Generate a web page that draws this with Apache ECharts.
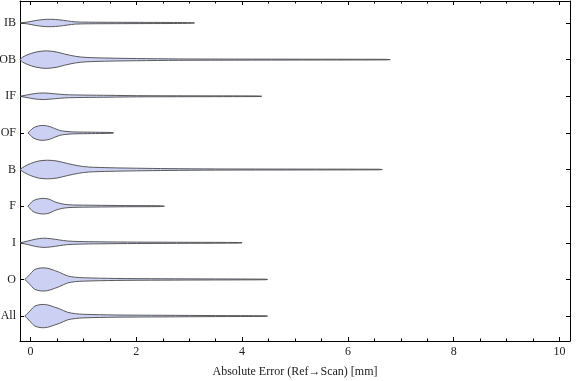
<!DOCTYPE html>
<html>
<head>
<meta charset="utf-8">
<script src="https://cdn.jsdelivr.net/npm/echarts@6/dist/echarts.min.js"></script>
<style>html,body{margin:0;padding:0;background:#fff;}#c{width:576px;height:381px;}</style>
</head>
<body>
<div id="c"></div>
<script>
// Categories, top to bottom
const categories = ['IB', 'OB', 'IF', 'OF', 'B', 'F', 'I', 'O', 'All'];

// Violin profiles: x = absolute error [mm], hw = half-width of density (in row units)
const IB_x  = [-0.2, -0.05, 0.1, 0.25, 0.4, 0.55, 0.7, 0.85, 1.1, 1.6, 2.2, 2.7, 3.05, 3.1];
const IB_hw = [0, 0.027, 0.068, 0.095, 0.101, 0.085, 0.055, 0.03, 0.022, 0.019, 0.016, 0.014, 0.008, 0];

const OB_x  = [-0.2, -0.15, -0.05, 0.1, 0.3, 0.5, 0.65, 0.85, 1.05, 1.5, 2.0, 2.8, 4.0, 5.5, 6.7, 6.8];
const OB_hw = [0, 0.068, 0.137, 0.205, 0.240, 0.205, 0.150, 0.090, 0.060, 0.041, 0.030, 0.019, 0.014, 0.011, 0.008, 0];

const IF_x  = [-0.2, -0.05, 0.1, 0.25, 0.45, 0.65, 1.0, 1.5, 2.0, 3.0, 4.3, 4.37];
const IF_hw = [0, 0.041, 0.077, 0.090, 0.068, 0.044, 0.033, 0.025, 0.016, 0.012, 0.008, 0];

const OF_x  = [-0.05, 0.0, 0.05, 0.15, 0.25, 0.35, 0.45, 0.55, 0.65, 0.8, 1.0, 1.3, 1.52, 1.57];
const OF_hw = [0, 0.068, 0.137, 0.191, 0.202, 0.178, 0.123, 0.068, 0.044, 0.027, 0.022, 0.016, 0.011, 0];

const B_x   = [-0.2, -0.12, 0.0, 0.15, 0.32, 0.5, 0.7, 0.9, 1.1, 1.5, 2.0, 2.6, 3.5, 5.0, 6.6, 6.65];
const B_hw  = [0, 0.082, 0.164, 0.232, 0.254, 0.232, 0.164, 0.104, 0.068, 0.049, 0.036, 0.025, 0.016, 0.012, 0.008, 0];

const F_x   = [-0.05, 0.0, 0.05, 0.15, 0.25, 0.35, 0.45, 0.55, 0.65, 0.8, 1.2, 1.8, 2.45, 2.53];
const F_hw  = [0, 0.082, 0.150, 0.199, 0.213, 0.191, 0.123, 0.077, 0.049, 0.033, 0.025, 0.016, 0.011, 0];

const I_x   = [-0.2, -0.05, 0.1, 0.25, 0.4, 0.55, 0.7, 0.9, 1.3, 2.0, 3.0, 3.95, 4.0];
const I_hw  = [0, 0.049, 0.101, 0.126, 0.109, 0.077, 0.049, 0.036, 0.027, 0.019, 0.014, 0.008, 0];

const O_x   = [-0.11, -0.05, 0.02, 0.08, 0.2, 0.32, 0.45, 0.55, 0.7, 0.85, 1.0, 1.6, 2.5, 3.5, 4.45, 4.48];
const O_hw  = [0, 0.082, 0.191, 0.273, 0.314, 0.306, 0.246, 0.191, 0.096, 0.060, 0.046, 0.027, 0.019, 0.014, 0.008, 0];

const All_x  = [-0.11, -0.05, 0.02, 0.08, 0.2, 0.32, 0.45, 0.55, 0.7, 0.85, 1.0, 1.6, 2.5, 3.5, 4.45, 4.48];
const All_hw = [0, 0.082, 0.191, 0.273, 0.317, 0.306, 0.246, 0.197, 0.104, 0.066, 0.049, 0.030, 0.022, 0.014, 0.008, 0];

const profiles = [
  [IB_x, IB_hw], [OB_x, OB_hw], [IF_x, IF_hw], [OF_x, OF_hw], [B_x, B_hw],
  [F_x, F_hw], [I_x, I_hw], [O_x, O_hw], [All_x, All_hw]
];

const xMajorTicks = [0, 2, 4, 6, 8, 10];
const xMinorTicks = [0.5, 1, 1.5, 2.5, 3, 3.5, 4.5, 5, 5.5, 6.5, 7, 7.5, 8.5, 9, 9.5];
const xTitle = 'Absolute Error (Ref\u2192Scan) [mm]';

const FONT = 'Liberation Serif';
const chart = echarts.init(document.getElementById('c'), null, {renderer: 'canvas'});

function xAxisBase(pos, ticks, len, showLine) {
  return {
    type: 'value', position: pos, min: -0.2, max: 10.2,
    axisLine: {show: showLine, onZero: false, lineStyle: {color: '#000', width: 1}},
    axisTick: {show: true, inside: true, length: len, customValues: ticks, lineStyle: {color: '#000', width: 1}},
    axisLabel: {show: false},
    splitLine: {show: false}
  };
}

const xAxes = [
  Object.assign(xAxisBase('bottom', xMajorTicks, 4, true), {
    axisLabel: {show: true, customValues: xMajorTicks, margin: 5, color: '#222',
      fontFamily: FONT, fontSize: 12},
    name: xTitle, nameLocation: 'middle', nameGap: 25,
    nameTextStyle: {fontFamily: FONT, fontSize: 12, color: '#222'}
  }),
  xAxisBase('bottom', xMinorTicks, 2.5, false),
  xAxisBase('top', xMajorTicks, 4, true),
  xAxisBase('top', xMinorTicks, 2.5, false)
];

const yTicks = categories.map((c, i) => i);
const yAxes = [
  {
    type: 'value', position: 'left', min: -0.6, max: 8.68, inverse: true,
    axisLine: {show: true, onZero: false, lineStyle: {color: '#000', width: 1}},
    axisTick: {show: true, inside: true, length: 4, customValues: yTicks, lineStyle: {color: '#000'}},
    axisLabel: {show: true, customValues: yTicks, margin: 4, color: '#222', fontFamily: FONT, fontSize: 12,
      formatter: v => categories[Math.round(v)] || ''},
    splitLine: {show: false}
  },
  {
    type: 'value', position: 'right', min: -0.6, max: 8.68, inverse: true,
    axisLine: {show: true, onZero: false, lineStyle: {color: '#000', width: 1}},
    axisTick: {show: true, inside: true, length: 4, customValues: yTicks, lineStyle: {color: '#000'}},
    axisLabel: {show: false},
    splitLine: {show: false}
  }
];

chart.setOption({
  animation: false,
  backgroundColor: '#fff',
  grid: {left: 20, right: 6, top: 1, bottom: 40, containLabel: false, outerBoundsMode: 'none'},
  xAxis: xAxes,
  yAxis: yAxes,
  series: [{
    type: 'custom',
    xAxisIndex: 0, yAxisIndex: 0,
    data: categories.map((c, i) => [0, i]),
    renderItem: function (params, api) {
      const i = params.dataIndex;
      const xs = profiles[i][0], hw = profiles[i][1];
      const pts = [];
      for (let k = 0; k < xs.length; k++) pts.push(api.coord([xs[k], i - hw[k]]));
      for (let k = xs.length - 1; k >= 0; k--) pts.push(api.coord([xs[k], i + hw[k]]));
      return {
        type: 'polygon',
        shape: {points: pts, smooth: 0.3},
        style: {fill: '#ccd1f3', stroke: '#4a4a4a', lineWidth: 0.9}
      };
    }
  }]
});
</script>
</body>
</html>
